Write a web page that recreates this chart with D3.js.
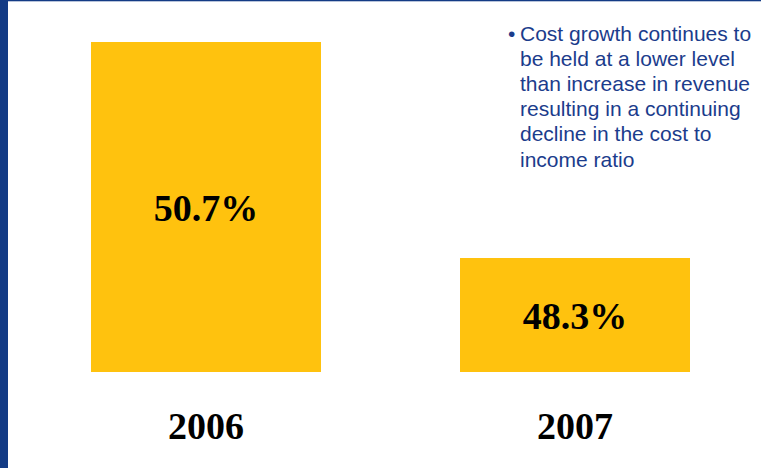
<!DOCTYPE html>
<html><head><meta charset="utf-8">
<script src="https://cdn.jsdelivr.net/npm/d3@7"></script>
<style>html,body{margin:0;padding:0;background:#fff;overflow:hidden}</style>
</head><body>
<script>
const categories = ["2006", "2007"];
const values = [50.7, 48.3];
const valueLabels = ["50.7%", "48.3%"];
const noteLines = ["Cost growth continues to", "be held at a lower level", "than increase in revenue", "resulting in a continuing", "decline in the cost to", "income ratio"];

const W = 761, H = 468;
const svg = d3.select("body").append("svg").attr("width", W).attr("height", H);
const blue = "#133B85", gold = "#FFC20E";

svg.append("rect").attr("x", 0).attr("y", 0).attr("width", 8).attr("height", H).attr("fill", blue);
svg.append("rect").attr("x", 8).attr("y", 0).attr("width", W - 8).attr("height", 1.3).attr("fill", blue);

const x = d3.scaleBand().domain(categories).range([91, 690]).paddingInner(0.3767).paddingOuter(0);
const y = d3.scaleLinear().domain([47, 51]).range([375, 15]);
const base = 372;

const g = svg.append("g");
g.selectAll("rect.bar").data(categories).join("rect").attr("class", "bar")
  .attr("x", d => x(d)).attr("width", x.bandwidth())
  .attr("y", (d, i) => y(values[i])).attr("height", (d, i) => base - y(values[i]))
  .attr("fill", gold);

g.selectAll("text.val").data(categories).join("text").attr("class", "val")
  .attr("x", d => x(d) + x.bandwidth() / 2)
  .attr("y", (d, i) => (y(values[i]) + base) / 2 + 13.5)
  .attr("text-anchor", "middle")
  .attr("font-family", "Liberation Serif, Times New Roman, serif")
  .attr("font-weight", "bold").attr("font-size", 38).attr("fill", "#000")
  .text((d, i) => valueLabels[i]);

g.selectAll("text.cat").data(categories).join("text").attr("class", "cat")
  .attr("x", d => x(d) + x.bandwidth() / 2)
  .attr("y", 439)
  .attr("text-anchor", "middle")
  .attr("font-family", "Liberation Serif, Times New Roman, serif")
  .attr("font-weight", "bold").attr("font-size", 38).attr("fill", "#000")
  .text(d => d);

const note = svg.append("g").attr("font-family", "Liberation Sans, Arial, sans-serif")
  .attr("font-size", 21).attr("fill", "#1B3C8C");
note.append("text").attr("x", 508).attr("y", 41).text("•");
note.selectAll("text.line").data(noteLines).join("text").attr("class", "line")
  .attr("x", 520).attr("y", (d, i) => 41 + i * 25.1).text(d => d);
</script>
</body></html>
